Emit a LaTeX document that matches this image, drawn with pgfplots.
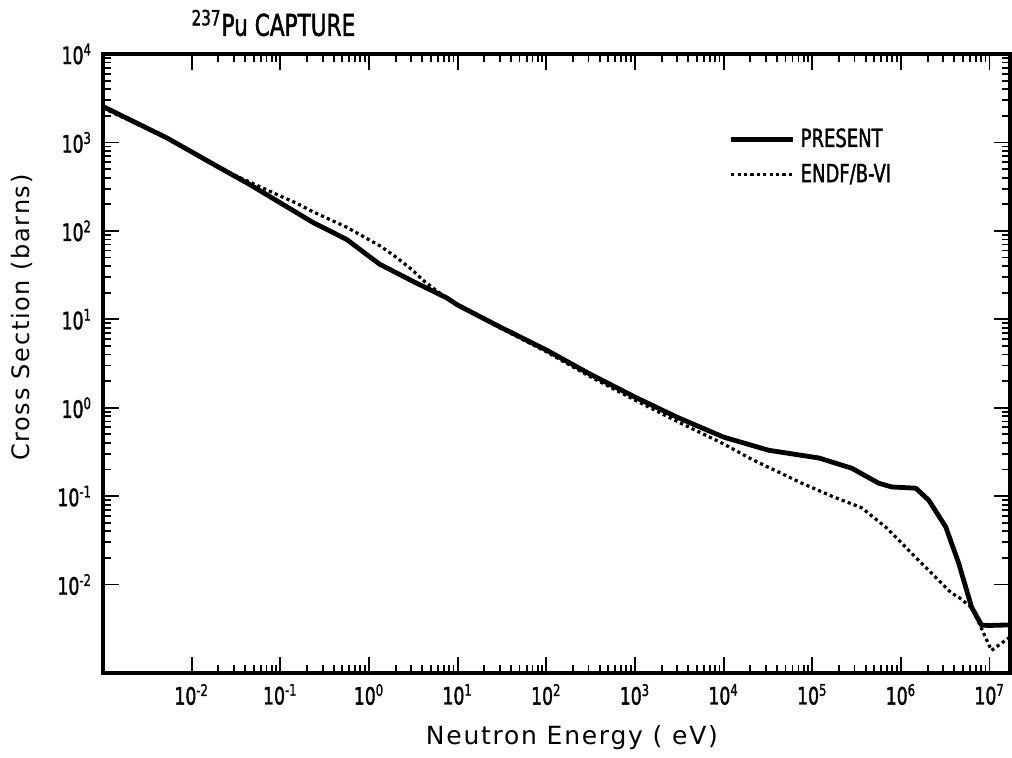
\documentclass[border=0pt]{standalone}
\usepackage{fontspec}
\setmainfont{DejaVu Sans}
\newfontfamily\condfont{DejaVu Sans}[FakeStretch=0.72, FakeBold=1.5]
\newfontfamily\labelfont{DejaVu Sans}[LetterSpace=7]
\usepackage{pgfplots}
\pgfplotsset{compat=1.18}

\begin{document}
\begin{tikzpicture}
\begin{axis}[
    scale only axis,
    width=453.5pt, height=309.5pt,
    xmode=log, ymode=log,
    xmin=1e-3, xmax=1.7e7,
    ymin=1e-3, ymax=1e4,
    axis line style={line width=1.6pt},
    tick align=inside,
    major tick length=8pt,
    minor tick length=4pt,
    every tick/.style={black, line width=0.9pt},
    xtick={1e-2,1e-1,1,1e1,1e2,1e3,1e4,1e5,1e6,1e7},
    xticklabels={10\textsuperscript{-2},10\textsuperscript{-1},10\textsuperscript{0},10\textsuperscript{1},10\textsuperscript{2},10\textsuperscript{3},10\textsuperscript{4},10\textsuperscript{5},10\textsuperscript{6},10\textsuperscript{7}},
    ytick={1e-2,1e-1,1,1e1,1e2,1e3,1e4},
    yticklabels={10\textsuperscript{-2},10\textsuperscript{-1},10\textsuperscript{0},10\textsuperscript{1},10\textsuperscript{2},10\textsuperscript{3},10\textsuperscript{4}},
    /pgf/number format/assume math mode=true,
    tick label style={font=\condfont\fontsize{12}{14}\selectfont},
    xticklabel style={yshift=-2pt},
    yticklabel style={xshift=-2pt},
    xlabel={Neutron Energy ( eV)},
    ylabel={Cross Section (barns)},
    xlabel style={font=\labelfont\fontsize{12.5}{14}\selectfont, at={(axis description cs:0.517,-0.105)}, anchor=center},
    ylabel style={font=\labelfont\fontsize{12}{14}\selectfont, at={(axis description cs:-0.089,0.574)}, anchor=center},
    title={\textsuperscript{237}Pu\ CAPTURE},
    title style={font=\condfont\fontsize{15}{17}\selectfont, at={(axis description cs:0.09,1.01)}, anchor=base west},
    legend style={draw=none, fill=none, at={(axis description cs:0.683,0.895)}, anchor=north west,
        font=\condfont\fontsize{12.5}{14}\selectfont, row sep=2pt, nodes={inner sep=2.5pt},
        /tikz/every even column/.append style={column sep=6pt}},
    legend cell align=left,
    legend image code/.code={\draw[#1] (0pt,0pt) -- (31pt,0pt);},
]
% PRESENT
\addplot[black, line width=2.4pt, line join=round] coordinates {
    (1e-3, 2550) (5.3e-3, 1120) (0.0192, 540) (0.045, 335) (0.098, 210)
    (0.232, 125) (0.56, 80) (1.32, 42) (3.1, 27) (7.5, 17.5) (10, 14.5)
    (30, 8.2) (100, 4.5) (300, 2.45) (1000, 1.32) (3000, 0.78) (1e4, 0.465)
    (3.24e4, 0.33) (1.19e5, 0.27) (2.79e5, 0.207) (5.62e5, 0.14) (7.9e5, 0.127)
    (1.47e6, 0.123) (2.06e6, 0.09) (3.2e6, 0.045) (4.48e6, 0.0175)
    (6.27e6, 5.55e-3) (8.13e6, 3.47e-3) (1e7, 3.45e-3) (1.7e7, 3.5e-3)
};
\addlegendentry{PRESENT}
% ENDF/B-VI
\addplot[black, line width=1.6pt, dash pattern=on 1.6pt off 1.6pt] coordinates {
    (1e-3, 2450) (5.3e-3, 1120) (0.0192, 545) (0.03, 430) (0.098, 250)
    (0.153, 205) (0.232, 165) (0.56, 110) (1.32, 68) (2.05, 50) (3.1, 36)
    (4.0, 28) (6.2, 20) (10, 14.5) (30, 8.0) (100, 4.3) (300, 2.3)
    (1000, 1.22) (3000, 0.7) (1e4, 0.39) (2.09e4, 0.26) (7.64e4, 0.14)
    (1.66e5, 0.10) (3.6e5, 0.074) (6.75e5, 0.0446) (1.58e6, 0.0189)
    (3.73e6, 8.0e-3) (4.48e6, 7.2e-3) (6.27e6, 5.5e-3) (8.1e6, 3.2e-3)
    (1.05e7, 1.8e-3) (1.7e7, 2.55e-3)
};
\addlegendentry{ENDF/B-VI}
\end{axis}
\pgfresetboundingbox
\path[use as bounding box] (-51.5pt,-42pt) rectangle (454.5pt,336.5pt);
\end{tikzpicture}
\end{document}
